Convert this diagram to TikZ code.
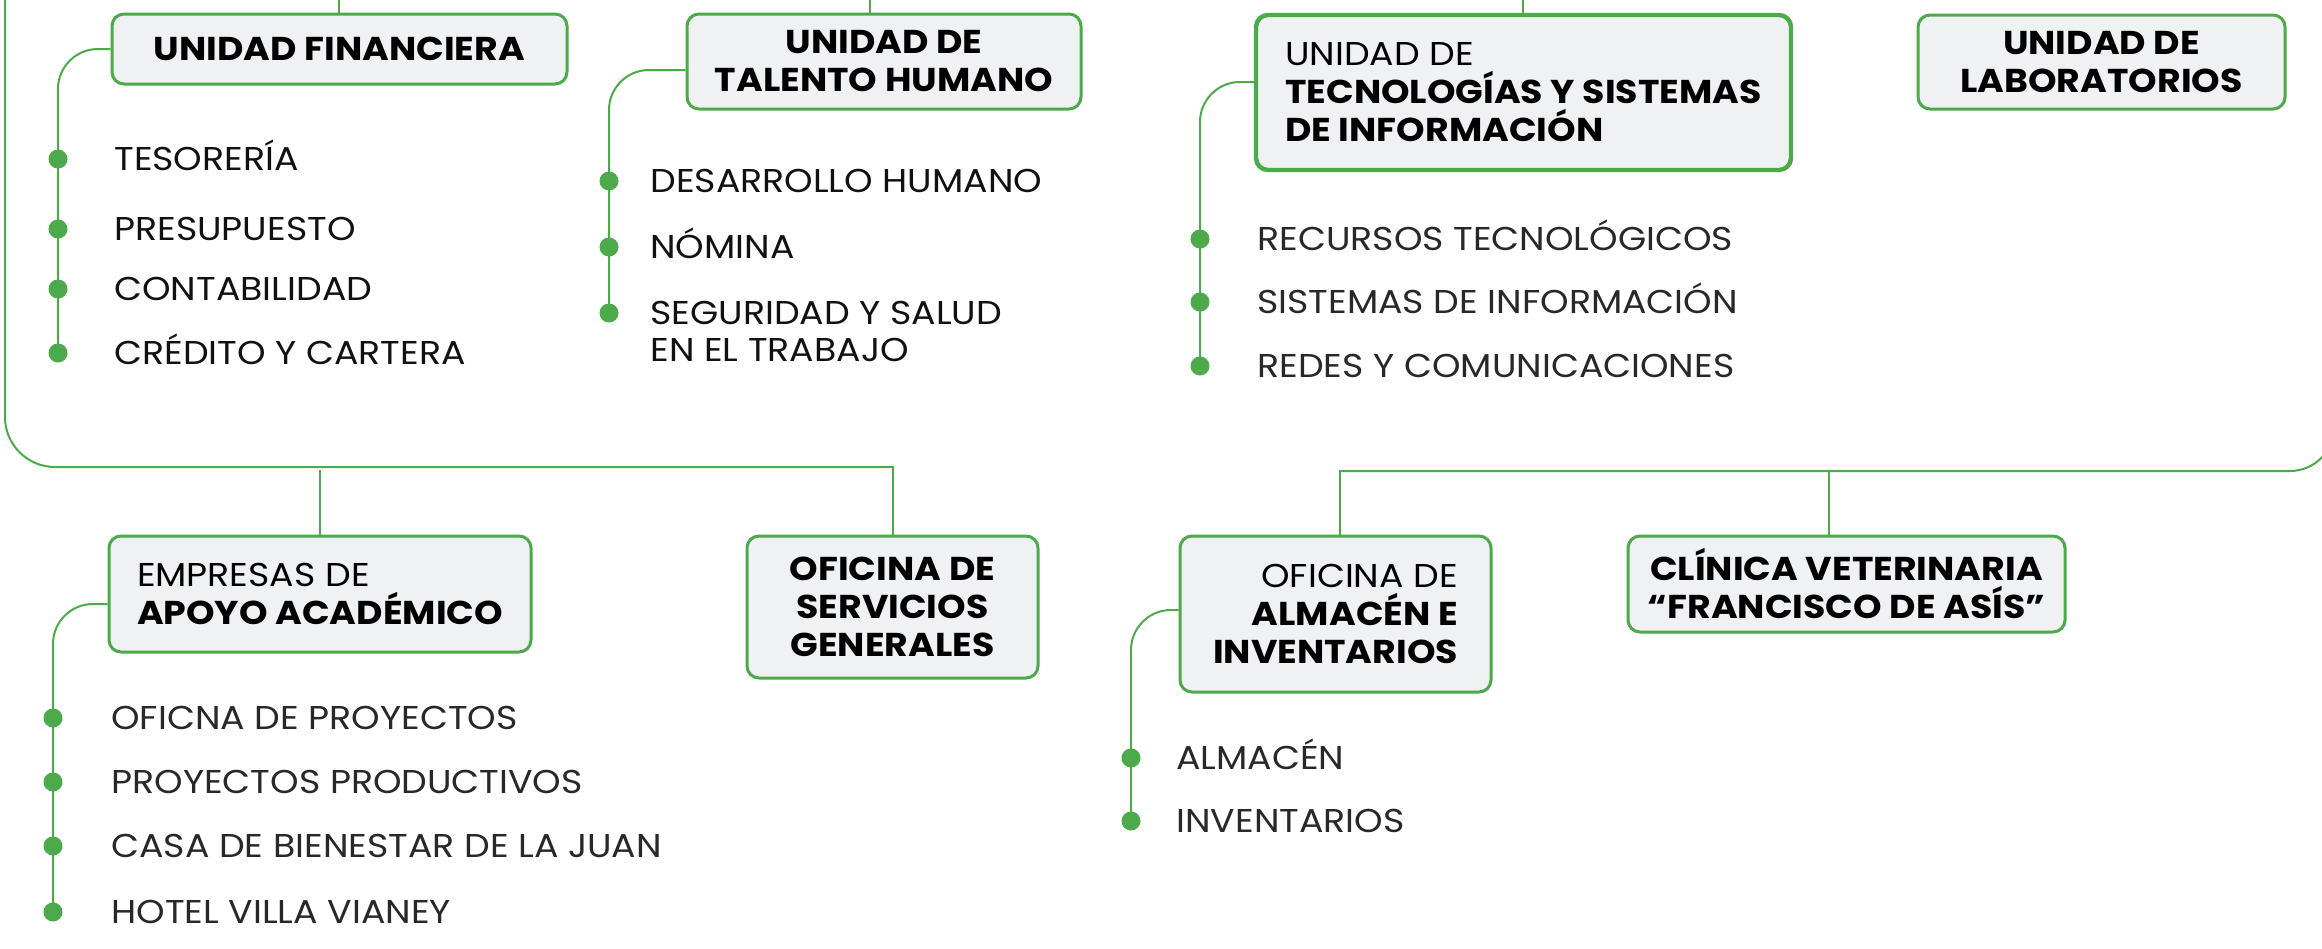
\documentclass[tikz,border=0pt]{standalone}
\usepackage{fontspec}
\setmainfont{Poppins}[FakeStretch=1.1]
\definecolor{grn}{RGB}{76,170,74}
\definecolor{boxfill}{RGB}{240,241,243}
\definecolor{ink}{RGB}{17,17,17}
\definecolor{ink2}{RGB}{40,40,40}
\newcommand\myfs{\fontsize{16.5}{19}\selectfont}
\begin{document}
\begin{tikzpicture}[x=0.5pt,y=-0.5pt,
  conn/.style={draw=grn, line width=1pt},
  bracket/.style={draw=grn, line width=1pt, rounded corners=20pt},
  box/.style={draw=grn, fill=boxfill, line width=1.5pt, rounded corners=6pt, inner sep=0pt, text=black, font=\myfs},
  thickbox/.style={box, line width=2.2pt},
  dot/.style={circle, fill=grn, minimum size=9.5pt, inner sep=0pt},
  item/.style={anchor=base west, inner sep=0pt, font=\myfs, text=ink},
  item2/.style={item, text=ink2}]
\useasboundingbox (0,0) rectangle (2322,948);
\clip (0,0) rectangle (2322,948);
\fill[white] (0,0) rectangle (2322,948);

% ---- boxes
\node[box, minimum width=227.5pt, minimum height=35pt, font=\myfs\bfseries] (fin) at (339.5,49) {UNIDAD FINANCIERA};
\node[box, minimum width=197pt, minimum height=47.5pt, align=center, font=\myfs\bfseries] (tal) at (884,61.5) {UNIDAD DE\\TALENTO HUMANO};
\node[thickbox, minimum width=267.5pt, minimum height=77.5pt, align=left] (tec) at (1523.5,92.5) {UNIDAD DE\\\textbf{TECNOLOGÍAS Y SISTEMAS}\\\textbf{DE INFORMACIÓN}};
\node[box, minimum width=183.5pt, minimum height=47pt, align=center, font=\myfs\bfseries] (lab) at (2101.5,62) {UNIDAD DE\\LABORATORIOS};
\node[box, minimum width=211pt, minimum height=58pt, align=left] (emp) at (320,594) {EMPRESAS DE\\\textbf{APOYO ACADÉMICO}};
\node[box, minimum width=145.5pt, minimum height=71pt, align=center, font=\myfs\bfseries] (ser) at (892.5,607) {OFICINA DE\\SERVICIOS\\GENERALES};
\node[box, minimum width=155.5pt, minimum height=78pt, align=right] (alm) at (1335.5,614) {OFICINA DE\\\textbf{ALMACÉN E}\\\textbf{INVENTARIOS}};
\node[box, minimum width=218.5pt, minimum height=48pt, align=center, font=\myfs\bfseries] (cli) at (1846.5,584) {CLÍNICA VETERINARIA\\“FRANCISCO DE ASÍS”};

% ---- top connectors (parent off-picture)
\coordinate (finTop) at (339,0);
\coordinate (talTop) at (870,0);
\coordinate (tecTop) at (1523,0);
\draw[conn] (finTop) -- (finTop |- fin.north);
\draw[conn] (talTop) -- (talTop |- tal.north);
\draw[conn] (tecTop) -- (tecTop |- tec.north);

% ---- outer left frame to lower-left boxes
\coordinate (leftTop) at (5,0);
\coordinate (leftCorner) at (5,467);
\coordinate (serJoin) at (893,467);
\draw[conn, rounded corners=25pt] (leftTop) -- (leftCorner) -- (serJoin);
\draw[conn, line cap=rect] (serJoin) -- (serJoin |- ser.north);
\coordinate (empJoin) at (320,470);
\draw[conn] (empJoin) -- (empJoin |- emp.north);

% ---- outer right frame to lower-right boxes
\coordinate (rightTop) at (2334,300);
\coordinate (rightCorner) at (2334,471);
\coordinate (almJoin) at (1340,471);
\draw[conn, rounded corners=22pt] (rightTop) -- (rightCorner) -- (almJoin);
\draw[conn, line cap=rect] (almJoin) -- (almJoin |- alm.north);
\coordinate (cliJoin) at (1829,471);
\draw[conn] (cliJoin) -- (cliJoin |- cli.north);

% ---- Unidad Financiera items
\node[dot] (f1) at (58,159) {};
\node[dot] (f2) at (58,229) {};
\node[dot] (f3) at (58,289) {};
\node[dot] (f4) at (58,353) {};
\draw[bracket] (fin.west |- 0,49) -- (58,49) -- (f4.center);
\node[item] (tf1) at (114,170) {TESORERÍA};
\node[item] (tf2) at (114,240) {PRESUPUESTO};
\node[item] (tf3) at (114,300) {CONTABILIDAD};
\node[item] (tf4) at (114,364) {CRÉDITO Y CARTERA};

% ---- Talento Humano items
\node[dot] (h1) at (609,181) {};
\node[dot] (h2) at (609,247) {};
\node[dot] (h3) at (609,313) {};
\draw[bracket] (tal.west |- 0,70) -- (609,70) -- (h3.center);
\node[item] (th1) at (650,192) {DESARROLLO HUMANO};
\node[item] (th2) at (650,258) {NÓMINA};
\node[item, align=left, font=\fontsize{16.5}{18.5}\selectfont] (th3) at (650,361) {SEGURIDAD Y SALUD\\EN EL TRABAJO};

% ---- Tecnologias items
\node[dot] (t1) at (1200,239) {};
\node[dot] (t2) at (1200,302) {};
\node[dot] (t3) at (1200,366) {};
\draw[bracket] (tec.west |- 0,82) -- (1200,82) -- (t3.center);
\node[item2] (tt1) at (1257,250) {RECURSOS TECNOLÓGICOS};
\node[item2] (tt2) at (1257,313) {SISTEMAS DE INFORMACIÓN};
\node[item2] (tt3) at (1257,377) {REDES Y COMUNICACIONES};

% ---- Empresas items
\node[dot] (e1) at (53,718) {};
\node[dot] (e2) at (53,782) {};
\node[dot] (e3) at (53,846) {};
\node[dot] (e4) at (53,912) {};
\draw[bracket] (emp.west |- 0,604) -- (53,604) -- (e4.center);
\node[item2] (te1) at (111,729) {OFICNA DE PROYECTOS};
\node[item2] (te2) at (111,793) {PROYECTOS PRODUCTIVOS};
\node[item2] (te3) at (111,857) {CASA DE BIENESTAR DE LA JUAN};
\node[item2] (te4) at (111,923) {HOTEL VILLA VIANEY};

% ---- Almacen items
\node[dot] (a1) at (1131,758) {};
\node[dot] (a2) at (1131,821) {};
\draw[bracket] (alm.west |- 0,610) -- (1131,610) -- (a2.center);
\node[item2] (ta1) at (1176,769) {ALMACÉN};
\node[item2] (ta2) at (1176,832) {INVENTARIOS};
\end{tikzpicture}
\end{document}
